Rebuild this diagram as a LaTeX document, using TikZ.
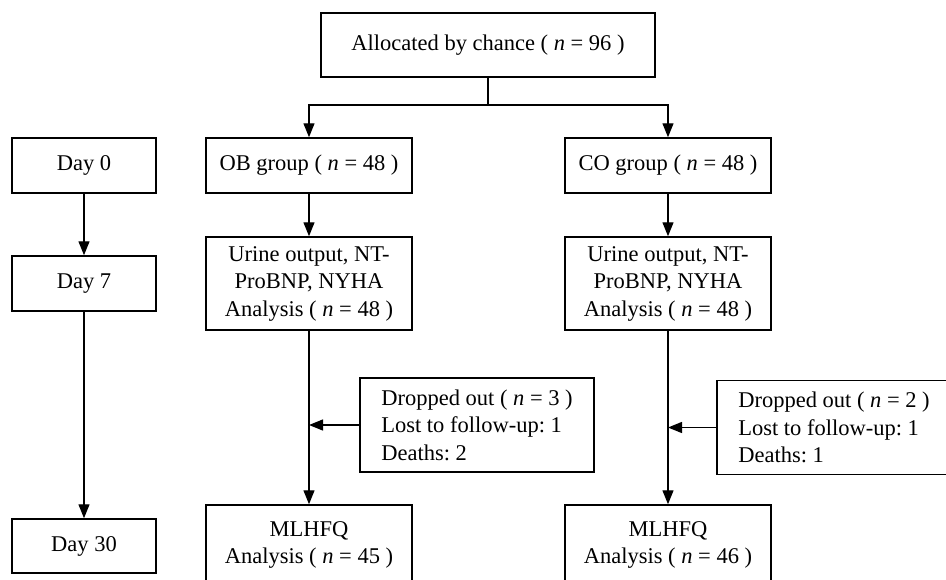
\documentclass[tikz,border=0pt]{standalone}
\usepackage{fontspec}
\setmainfont{Liberation Serif}
\usetikzlibrary{arrows.meta}
\tikzset{
  box/.style={draw, line width=1.5pt, align=center, inner sep=0pt,
    font=\fontsize{22.5}{27.5}\selectfont\frenchspacing},
  dropbox/.style={box, align=left, minimum width=234pt, minimum height=94pt},
  arr/.style={line width=1.3pt, -{Triangle[length=14pt,width=11pt]}},
  ln/.style={line width=1.3pt}
}
\newcommand{\nn}{\textit{n}}
\begin{document}
\begin{tikzpicture}[x=1pt,y=-1pt]
\useasboundingbox (0,0) rectangle (946,579);
\clip (0,0) rectangle (946,579);
\node[box, minimum width=334pt, minimum height=64pt] (top) at (488,45) {Allocated by chance ( \nn{} = 96 )};
\node[box, minimum width=144pt, minimum height=55pt] (day0) at (84,165.5) {Day 0};
\node[box, minimum width=206pt, minimum height=55pt] (ob) at (309,165.5) {OB group ( \nn{} = 48 )};
\node[box, minimum width=206pt, minimum height=55pt] (co) at (668,165.5) {CO group ( \nn{} = 48 )};
\node[box, minimum width=144pt, minimum height=55pt] (day7) at (84,283.5) {Day 7};
\node[box, minimum width=206pt, minimum height=93pt] (urob) at (309,283.5) {Urine output, NT-\\ProBNP, NYHA\\Analysis ( \nn{} = 48 )};
\node[box, minimum width=206pt, minimum height=93pt] (urco) at (668,283.5) {Urine output, NT-\\ProBNP, NYHA\\Analysis ( \nn{} = 48 )};
\node[dropbox] (drob) at (477,425) {Dropped out ( \nn{} = 3 )\\Lost to follow-up: 1\\Deaths: 2};
\node[dropbox] (drco) at (834,427.5) {Dropped out ( \nn{} = 2 )\\Lost to follow-up: 1\\Deaths: 1};
\node[box, minimum width=144pt, minimum height=54pt] (day30) at (84,546) {Day 30};
\node[box, minimum width=206pt, minimum height=80pt] (mlob) at (309,545) {MLHFQ\\Analysis ( \nn{} = 45 )};
\node[box, minimum width=206pt, minimum height=80pt] (mlco) at (668,545) {MLHFQ\\Analysis ( \nn{} = 46 )};
\coordinate (br) at (488,105);
\draw[ln] (top.south) -- (br);
\draw[arr] (br) -| (ob.north);
\draw[arr] (br) -| (co.north);
\draw[arr] (ob) -- (urob);
\draw[arr] (co) -- (urco);
\draw[arr] (urob) -- (mlob);
\draw[arr] (urco) -- (mlco);
\draw[arr] (day0) -- (day7);
\draw[arr] (day7) -- (day30);
\draw[arr] (drob.west) -- (drob.west -| urob.south);
\draw[arr] (drco.west) -- (drco.west -| urco.south);
\end{tikzpicture}
\end{document}
